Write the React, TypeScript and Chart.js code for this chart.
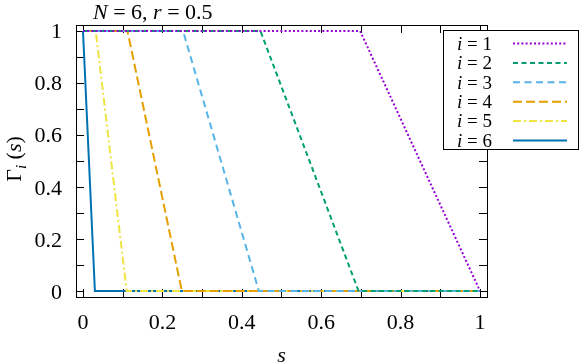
import React, { useEffect, useRef } from "react";
import { Chart, registerables } from "chart.js";

Chart.register(...registerables);

// ---- data ----
const seriesIndex = [1, 2, 3, 4, 5, 6];
const s1 = [0, 0.698, 1.0];
const g1 = [1, 1, 0];
const s2 = [0, 0.447, 0.694, 1.0];
const g2 = [1, 1, 0, 0];
const s3 = [0, 0.252, 0.443, 1.0];
const g3 = [1, 1, 0, 0];
const s4 = [0, 0.112, 0.249, 1.0];
const g4 = [1, 1, 0, 0];
const s5 = [0, 0.032, 0.11, 1.0];
const g5 = [1, 1, 0, 0];
const s6 = [0, 0.03, 1.0];
const g6 = [1, 0, 0];

const xTickLabels = [0, 0.2, 0.4, 0.6, 0.8, 1];
const yTickLabels = [0, 0.2, 0.4, 0.6, 0.8, 1];
const xMinorTicks = [0, 0.1, 0.2, 0.3, 0.4, 0.5, 0.6, 0.7, 0.8, 0.9, 1];
const yMinorTicks = [0, 0.1, 0.2, 0.3, 0.4, 0.5, 0.6, 0.7, 0.8, 0.9, 1];
const xRange = [-0.0176, 1.0176];
const yRange = [-0.023, 1.023];

const seriesX = [s1, s2, s3, s4, s5, s6];
const seriesY = [g1, g2, g3, g4, g5, g6];
const colors = ["#9400d3", "#009e73", "#56b4e9", "#e69f00", "#f0e442", "#0072b2"];
const dashes = [[2, 2.2], [5, 3.5], [7, 4.5], [9, 4], [8, 3, 2, 3], []];

const FAMILY = "serif";
const LEG_Y0 = 43.5;
const LEG_DY = 19.4;

const fmt = (v: number) => String(Math.round(v * 10) / 10);

type Part = { t: string; it?: boolean; size: number; dy?: number };

function setFont(ctx: CanvasRenderingContext2D, size: number, it?: boolean) {
  ctx.font = `${it ? "italic " : ""}${size}px ${FAMILY}`;
}
function drawParts(ctx: CanvasRenderingContext2D, parts: Part[], x: number, y: number) {
  let cx = x;
  for (const p of parts) {
    setFont(ctx, p.size, p.it);
    ctx.fillText(p.t, cx, y + (p.dy || 0));
    cx += ctx.measureText(p.t).width;
  }
}
function partsWidth(ctx: CanvasRenderingContext2D, parts: Part[]) {
  let w = 0;
  for (const p of parts) {
    setFont(ctx, p.size, p.it);
    w += ctx.measureText(p.t).width;
  }
  return w;
}

const decorPlugin = {
  id: "decor",
  beforeDatasetsDraw(chart: any) {
    const { ctx, chartArea: a, scales } = chart;
    ctx.save();
    ctx.strokeStyle = "#000";
    ctx.lineWidth = 1;
    ctx.beginPath();
    const L = 8;
    for (const v of xMinorTicks) {
      const px = Math.round(scales.x.getPixelForValue(v)) + 0.5;
      ctx.moveTo(px, a.bottom);
      ctx.lineTo(px, a.bottom - L);
      ctx.moveTo(px, a.top);
      ctx.lineTo(px, a.top + L);
    }
    for (const v of yMinorTicks) {
      const py = Math.round(scales.y.getPixelForValue(v)) + 0.5;
      ctx.moveTo(a.left, py);
      ctx.lineTo(a.left + L, py);
      ctx.moveTo(a.right, py);
      ctx.lineTo(a.right - L, py);
    }
    ctx.stroke();
    ctx.restore();
  },
  afterDatasetsDraw(chart: any) {
    const { ctx, chartArea: a } = chart;
    ctx.save();
    ctx.strokeStyle = "#000";
    ctx.lineWidth = 1;
    ctx.strokeRect(Math.round(a.left) + 0.5, Math.round(a.top) + 0.5, Math.round(a.right - a.left), Math.round(a.bottom - a.top));
    ctx.fillStyle = "#fff";
    ctx.fillRect(443.5, 30.5, 135, 119);
    ctx.strokeRect(443.5, 30.5, 135, 119);
    seriesIndex.forEach((n, k) => {
      const ry = LEG_Y0 + k * LEG_DY;
      ctx.strokeStyle = colors[k];
      ctx.lineWidth = 2;
      ctx.setLineDash(dashes[k]);
      ctx.beginPath();
      ctx.moveTo(513, ry);
      ctx.lineTo(567, ry);
      ctx.stroke();
      ctx.setLineDash([]);
    });
    ctx.restore();
  },
  afterDraw(chart: any) {
    const { ctx, chartArea: a, scales } = chart;
    ctx.save();
    ctx.fillStyle = "#000";
    ctx.textBaseline = "alphabetic";
    setFont(ctx, 22);
    ctx.textAlign = "center";
    xTickLabels.forEach((v) => {
      ctx.fillText(fmt(v), scales.x.getPixelForValue(v), 328.5);
    });
    ctx.textAlign = "right";
    yTickLabels.forEach((v) => {
      ctx.fillText(fmt(v), 62, scales.y.getPixelForValue(v) + 7.5);
    });
    ctx.textAlign = "left";
    drawParts(ctx, [
      { t: "N", it: true, size: 22 },
      { t: " = 6, ", size: 22 },
      { t: "r", it: true, size: 22 },
      { t: " = 0.5", size: 22 },
    ], 93, 18.7);
    setFont(ctx, 22, true);
    ctx.textAlign = "center";
    ctx.fillText("s", (a.left + a.right) / 2, 361.5);
    ctx.textAlign = "left";
    const yParts: Part[] = [
      { t: "Γ", size: 22 },
      { t: "i", it: true, size: 15, dy: 5 },
      { t: " (", size: 22 },
      { t: "s", it: true, size: 22 },
      { t: ")", size: 22 },
    ];
    const w = partsWidth(ctx, yParts);
    ctx.translate(20.5, (a.top + a.bottom) / 2 - 2);
    ctx.rotate(-Math.PI / 2);
    drawParts(ctx, yParts, -w / 2, 0);
    ctx.setTransform(1, 0, 0, 1, 0, 0);
    seriesIndex.forEach((n, k) => {
      const ry = LEG_Y0 + k * LEG_DY;
      const parts: Part[] = [
        { t: "i", it: true, size: 19 },
        { t: " = " + n, size: 19 },
      ];
      const tw = partsWidth(ctx, parts);
      drawParts(ctx, parts, 492 - tw, ry + 6.3);
    });
    ctx.restore();
  },
};

export default function App() {
  const ref = useRef<HTMLCanvasElement>(null);
  useEffect(() => {
    if (!ref.current) return;
    const datasets = seriesIndex.map((n, k) => ({
      label: "i = " + n,
      data: seriesX[k].map((x, j) => ({ x, y: seriesY[k][j] })),
      borderColor: colors[k],
      backgroundColor: colors[k],
      borderWidth: 2,
      borderDash: dashes[k],
      pointRadius: 0,
      tension: 0,
      fill: false,
    }));
    const chart = new Chart(ref.current, {
      type: "line",
      data: { datasets },
      options: {
        animation: false,
        responsive: false,
        maintainAspectRatio: false,
        layout: { padding: { left: 0, top: 25, right: 94, bottom: 0 } },
        plugins: { legend: { display: false }, tooltip: { enabled: false }, title: { display: false } },
        scales: {
          x: {
            type: "linear",
            min: xRange[0],
            max: xRange[1],
            grid: { display: false },
            border: { display: false },
            ticks: { display: false },
            afterFit: (s: any) => {
              s.height = 67;
            },
          },
          y: {
            type: "linear",
            min: yRange[0],
            max: yRange[1],
            grid: { display: false },
            border: { display: false },
            ticks: { display: false },
            afterFit: (s: any) => {
              s.width = 76;
            },
          },
        },
      },
      plugins: [decorPlugin],
    } as any);
    return () => chart.destroy();
  }, []);
  return (
    <div style={{ position: "fixed", left: 0, top: 0, width: 581, height: 364, background: "#fff" }}>
      <canvas ref={ref} width={581} height={364} style={{ display: "block" }} />
    </div>
  );
}
